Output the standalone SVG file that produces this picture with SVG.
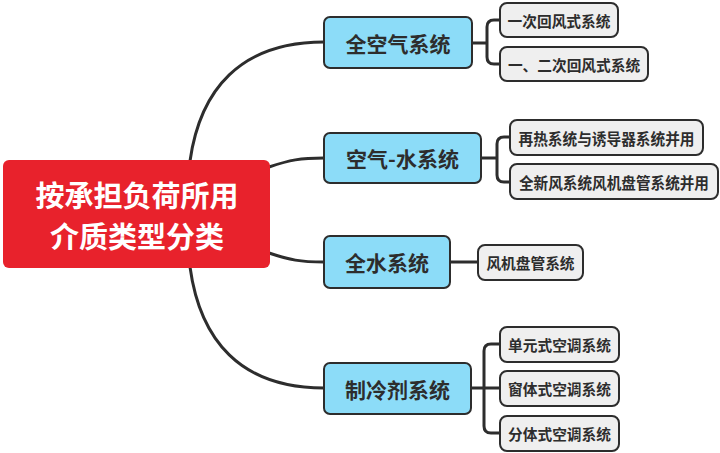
<svg xmlns="http://www.w3.org/2000/svg" width="720" height="453" viewBox="0 0 720 453">
<style>
.root rect{fill:#e8222c;}
.root text{fill:#ffffff;font-family:"Noto Sans CJK SC","Noto Sans",sans-serif;font-weight:bold;font-size:29px;text-anchor:middle;dominant-baseline:central;}
.l1 rect{fill:#8cdcf8;stroke:#2d2d2d;stroke-width:2;}
.l1 text{fill:#2d2d2d;font-family:"Noto Sans CJK SC","Noto Sans",sans-serif;font-weight:bold;font-size:21px;text-anchor:middle;dominant-baseline:central;}
.l2 rect{fill:#efefef;stroke:#2d2d2d;stroke-width:2;}
.l2 text{fill:#2d2d2d;font-family:"Noto Sans CJK SC","Noto Sans",sans-serif;font-weight:bold;font-size:14.7px;text-anchor:middle;dominant-baseline:central;}
.l2 text.big{font-size:15.5px;}
#connectors path{fill:none;stroke:#2d2d2d;stroke-width:3;stroke-linecap:round;}
</style>
<rect width="720" height="453" fill="#ffffff"/>
<g id="connectors">
<path d="M190,161 C200,90 240,42 324,42"/>
<path d="M269,167 C290,160 300,158 324,158"/>
<path d="M269,253 C290,260 300,262 324,262"/>
<path d="M190,267 C200,340 240,388 324,388"/>
<path d="M472,43 H487 M500,20 H494 Q487,20 487,27 V57 Q487,64 494,64 H500"/>
<path d="M481,158 H497 M510,137 H504 Q497,137 497,144 V175 Q497,182 504,182 H510"/>
<path d="M450,262 H478"/>
<path d="M471,388 H500 M500,344 H491 Q484,344 484,351 V426 Q484,433 491,433 H500"/>
</g>
<g id="root" class="root">
<rect x="3" y="160" width="267" height="108" rx="6"/>
<text x="137" y="194">按承担负荷所用</text>
<text x="137" y="234.5">介质类型分类</text>
</g>
<g id="n1" class="l1"><rect x="324" y="17" width="148" height="51" rx="6"/><text x="398" y="42.5">全空气系统</text></g>
<g id="n2" class="l1"><rect x="324" y="133" width="157" height="50" rx="6"/><text x="402.5" y="158">空气-水系统</text></g>
<g id="n3" class="l1"><rect x="324" y="236" width="126" height="52" rx="6"/><text x="387" y="262">全水系统</text></g>
<g id="n4" class="l1"><rect x="324" y="363" width="147" height="51" rx="6"/><text x="397.5" y="388.5">制冷剂系统</text></g>
<g id="n1a" class="l2"><rect x="500" y="3" width="118" height="34" rx="7"/><text x="559" y="20">一次回风式系统</text></g>
<g id="n1b" class="l2"><rect x="500" y="47" width="148" height="34" rx="7"/><text x="574" y="64">一、二次回风式系统</text></g>
<g id="n2a" class="l2"><rect x="510" y="120" width="193" height="35" rx="7"/><text class="big" x="606.5" y="137.5" textLength="176" lengthAdjust="spacingAndGlyphs">再热系统与诱导器系统并用</text></g>
<g id="n2b" class="l2"><rect x="510" y="164" width="208" height="35" rx="7"/><text class="big" x="614" y="181.5" textLength="190" lengthAdjust="spacingAndGlyphs">全新风系统风机盘管系统并用</text></g>
<g id="n3a" class="l2"><rect x="478" y="245" width="105" height="35" rx="7"/><text x="530.5" y="262.5">风机盘管系统</text></g>
<g id="n4a" class="l2"><rect x="500" y="327" width="119" height="35" rx="7"/><text x="559.5" y="344.5">单元式空调系统</text></g>
<g id="n4b" class="l2"><rect x="500" y="371" width="119" height="35" rx="7"/><text x="559.5" y="388.5">窗体式空调系统</text></g>
<g id="n4c" class="l2"><rect x="500" y="416" width="119" height="35" rx="7"/><text x="559.5" y="433.5">分体式空调系统</text></g>
</svg>
